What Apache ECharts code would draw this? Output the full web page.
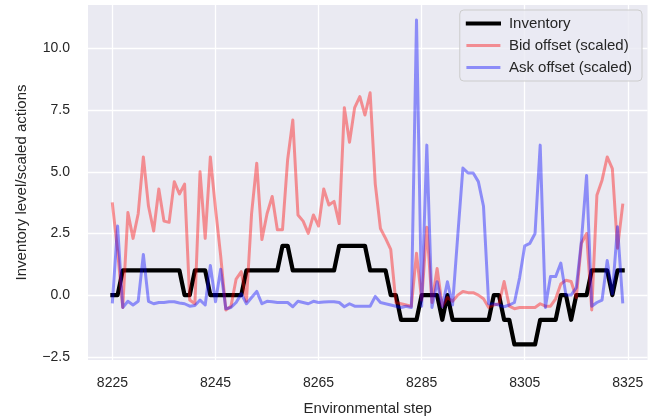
<!DOCTYPE html>
<html>
<head>
<meta charset="utf-8">
<script src="https://cdn.jsdelivr.net/npm/echarts@6/dist/echarts.min.js"></script>
<style>
  html, body { margin: 0; padding: 0; background: #ffffff; }
  #chart { width: 659px; height: 419px; }
</style>
</head>
<body>
<div id="chart"></div>
<script>
// Environmental steps (x)
var steps = [
  8225, 8226, 8227, 8228, 8229, 8230, 8231, 8232, 8233, 8234,
  8235, 8236, 8237, 8238, 8239, 8240, 8241, 8242, 8243, 8244,
  8245, 8246, 8247, 8248, 8249, 8250, 8251, 8252, 8253, 8254,
  8255, 8256, 8257, 8258, 8259, 8260, 8261, 8262, 8263, 8264,
  8265, 8266, 8267, 8268, 8269, 8270, 8271, 8272, 8273, 8274,
  8275, 8276, 8277, 8278, 8279, 8280, 8281, 8282, 8283, 8284,
  8285, 8286, 8287, 8288, 8289, 8290, 8291, 8292, 8293, 8294,
  8295, 8296, 8297, 8298, 8299, 8300, 8301, 8302, 8303, 8304,
  8305, 8306, 8307, 8308, 8309, 8310, 8311, 8312, 8313, 8314,
  8315, 8316, 8317, 8318, 8319, 8320, 8321, 8322, 8323, 8324
];

// Inventory level
var inventory = [
  0, 0, 1, 1, 1, 1, 1, 1, 1, 1,
  1, 1, 1, 1, 0, 0, 1, 1, 1, 0,
  0, 0, 0, 0, 0, 0, 1, 1, 1, 1,
  1, 1, 1, 2, 2, 1, 1, 1, 1, 1,
  1, 1, 1, 1, 2, 2, 2, 2, 2, 2,
  1, 1, 1, 1, 0, 0, -1, -1, -1, -1,
  0, 0, 0, 0, -1, 0, -1, -1, -1, -1,
  -1, -1, -1, -1, 0, 0, -1, -1, -2, -2,
  -2, -2, -2, -1, -1, -1, -1, 0, 0, -1,
  0, 0, 0, 1, 1, 1, 1, 0, 1, 1
];

// Bid offset (scaled)
var bidOffset = [
  3.7, 1.8, -0.5, 3.35, 2.3, 3.3, 5.6, 3.6, 2.6, 4.3,
  3.0, 2.95, 4.6, 4.1, 4.5, -0.2, -0.35, 5.0, 2.3, 5.6,
  3.5, 1.6, -0.6, -0.45, 0.65, 0.95, -0.25, 3.3, 5.35, 2.25,
  3.3, 4.0, 2.65, 2.65, 5.5, 7.1, 3.25, 3.0, 2.5, 3.25,
  2.8, 4.3, 3.65, 3.8, 2.9, 7.6, 6.2, 7.6, 8.05, 7.3,
  8.2, 4.5, 2.7, 2.3, 1.85, -0.3, -0.35, -0.4, -0.45, 1.7,
  -0.2, 2.75, -0.3, 1.08, -0.45, -0.1, -0.25, 0.0, 0.15, 0.1,
  0.1, 0.0, -0.15, -0.5, -0.4, -0.35, 0.55, -0.45, -0.55, -0.5,
  -0.5, -0.5, -0.5, -0.35, -0.45, -0.45, -0.15, 0.45, 0.6, 0.55,
  -0.1, 2.1, 2.5, -0.6, 4.05, 4.66, 5.6, 5.13, 1.9, 3.65
];

// Ask offset (scaled)
var askOffset = [
  -0.27, 2.8, -0.5, -0.25, -0.4, -0.25, 1.65, -0.25, -0.35, -0.3,
  -0.3, -0.27, -0.27, -0.32, -0.35, -0.45, -0.42, -0.2, -0.4, 1.2,
  -0.27, 1.05, -0.55, -0.5, -0.3, 0.05, -0.35, -0.1, 0.15, -0.35,
  -0.25, -0.27, -0.3, -0.3, -0.3, -0.47, -0.25, -0.3, -0.35, -0.25,
  -0.3, -0.28, -0.27, -0.27, -0.3, -0.47, -0.35, -0.45, -0.45, -0.45,
  -0.45, -0.05, -0.3, -0.35, -0.4, -0.45, -0.5, -0.45, -0.5, 11.15,
  -0.45, 6.08, -0.5, 0.54, -0.47, 0.54, -0.4, 2.4, 5.15, 4.95,
  4.95, 4.6, 3.6, -0.35, -0.36, -0.4, -0.47, -0.4, -0.3, 0.7,
  2.0, 2.1, 2.5, 6.08, -0.5, 0.75, 0.75, 1.3, 0.0, 0.0,
  0.3, 2.2, 4.85, -0.45, -0.3, -0.2, 1.4, 0.05, 2.77, -0.27
];

// Tick labels
var xTicks = [8225, 8245, 8265, 8285, 8305, 8325];
var yTicks = [-2.5, 0.0, 2.5, 5.0, 7.5, 10.0];

function pairs(xs, ys) {
  var out = [];
  for (var i = 0; i < xs.length; i++) out.push([xs[i], ys[i]]);
  return out;
}

var chart = echarts.init(document.getElementById('chart'), null, { renderer: 'canvas' });
var FONT = 'Liberation Sans, Arial, sans-serif';

chart.setOption({
  animation: false,
  backgroundColor: '#ffffff',
  grid: {
    left: 88, top: 5, right: 11.5, bottom: 59,
    outerBoundsMode: 'none',
    containLabel: false,
    show: true, backgroundColor: '#EAEAF2', borderWidth: 0
  },
  legend: {
    orient: 'vertical',
    right: 17, top: 10,
    padding: [6, 10, 6, 6],
    itemGap: 7,
    itemWidth: 31, itemHeight: 14,
    backgroundColor: 'rgba(234,234,242,0.8)',
    borderColor: '#cccccc', borderWidth: 1, borderRadius: 4,
    itemStyle: { opacity: 0 },
    textStyle: { fontFamily: FONT, fontSize: 15, color: '#262626', padding: [0, 0, 0, 5] },
    data: [
      { name: 'Inventory', lineStyle: { width: 4.2 } },
      { name: 'Bid offset (scaled)', lineStyle: { width: 3 } },
      { name: 'Ask offset (scaled)', lineStyle: { width: 3 } }
    ]
  },
  xAxis: {
    type: 'value',
    min: 8220.26, max: 8328.82,
    name: 'Environmental step',
    nameLocation: 'middle',
    nameGap: 41,
    nameTextStyle: { fontFamily: FONT, fontSize: 15, color: '#262626' },
    axisLine: { show: false },
    axisTick: { show: false, customValues: xTicks },
    axisLabel: {
      customValues: xTicks, fontFamily: FONT, fontSize: 14, color: '#262626', margin: 16,
      formatter: function (v) { return String(Math.round(v)); }
    },
    splitLine: { show: true, lineStyle: { color: '#ffffff', width: 1.3 } }
  },
  yAxis: {
    type: 'value',
    min: -2.63, max: 11.76,
    name: 'Inventory level/scaled actions',
    nameLocation: 'middle',
    nameRotate: 90,
    nameGap: 59,
    nameTextStyle: { fontFamily: FONT, fontSize: 15, color: '#262626' },
    axisLine: { show: false },
    axisTick: { show: false, customValues: yTicks },
    axisLabel: {
      customValues: yTicks,
      fontFamily: FONT, fontSize: 14, color: '#262626', margin: 18,
      formatter: function (v) { return v.toFixed(1).replace('-', '\u2212'); }
    },
    splitLine: { show: true, lineStyle: { color: '#ffffff', width: 1.3 } }
  },
  series: [
    {
      name: 'Inventory', type: 'line', data: pairs(steps, inventory),
      symbol: 'none', color: '#000000',
      lineStyle: { color: '#000000', width: 4.2, join: 'round', cap: 'square' },
      z: 2
    },
    {
      name: 'Bid offset (scaled)', type: 'line', data: pairs(steps, bidOffset),
      symbol: 'none', color: 'rgba(255,0,0,0.4)',
      lineStyle: { color: 'rgba(255,0,0,0.4)', width: 3, join: 'round', cap: 'square' },
      z: 3
    },
    {
      name: 'Ask offset (scaled)', type: 'line', data: pairs(steps, askOffset),
      symbol: 'none', color: 'rgba(0,0,255,0.4)',
      lineStyle: { color: 'rgba(0,0,255,0.4)', width: 3, join: 'round', cap: 'square' },
      z: 4
    }
  ]
});
</script>
</body>
</html>
